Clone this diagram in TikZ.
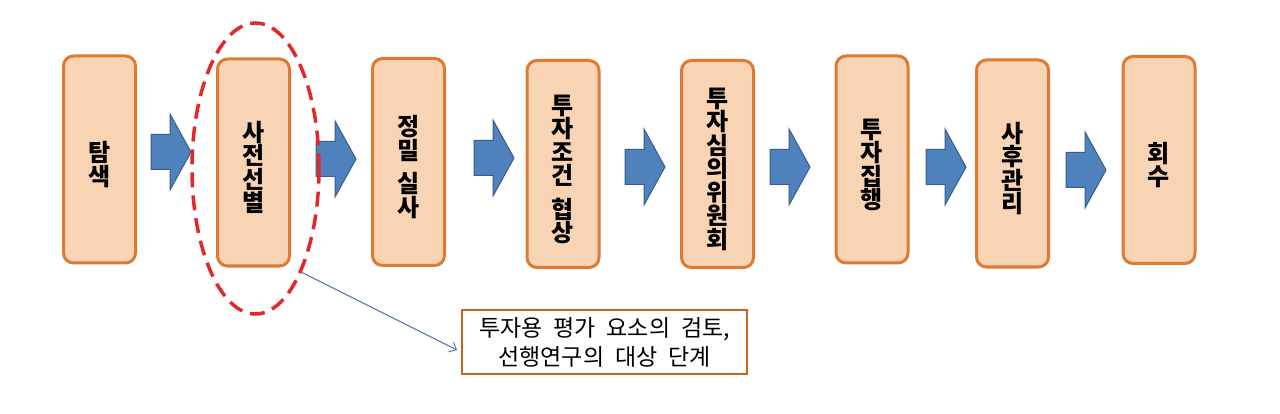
\documentclass[tikz,border=0pt]{standalone}
\usepackage{fontspec}
\setmainfont{Noto Sans CJK KR}
\newfontfamily\calfont[WordSpace=2.1]{Noto Sans CJK KR}
\usetikzlibrary{shapes.geometric,arrows.meta,calc}
\definecolor{boxfill}{HTML}{F8D4B4}
\definecolor{boxline}{HTML}{DE7A32}
\definecolor{arrfill}{HTML}{4F81BD}
\definecolor{arrline}{HTML}{385D8A}
\definecolor{ellred}{HTML}{E3282C}
\definecolor{calline}{HTML}{C8641E}
\definecolor{conn}{HTML}{4A72B2}
\newcommand\kstrut{\rule{0pt}{30pt}}
\begin{document}
\begin{tikzpicture}[x=1pt,y=-1pt,
  stagebox/.style={draw=boxline, fill=boxfill, line width=3pt, rounded corners=10pt,
    minimum width=72pt, minimum height=207pt, inner sep=0pt, align=center,
    font=\fontsize{24}{23.5}\selectfont\bfseries},
  blockarr/.pic={\draw[fill=arrfill, draw=arrline, line width=1pt]
    (0,-17.5) -- (19,-17.5) -- (19,-38) -- (40,0) -- (19,38) -- (19,17.5) -- (0,17.5) -- cycle;},
  selring/.style={ellipse, draw=ellred, line width=3.5pt, dash pattern=on 15pt off 8pt,
    minimum width=127pt, minimum height=291pt, inner sep=0pt},
  callout/.style={draw=calline, line width=2pt, fill=white, minimum width=285pt,
    minimum height=64pt, inner sep=0pt, align=center,
    font=\calfont\fontsize{23}{29}\selectfont},
  connline/.style={draw=conn, line width=0.9pt, -{Straight Barb[length=6pt,width=11pt]}}
]
\fill[white] (0,0) rectangle (1280,414);
\useasboundingbox (0,0) rectangle (1280,414);

\node[stagebox] (b1) at (99.5,159.5) {\kstrut 탐\\색};
\node[stagebox] (b2) at (253.5,162.5) {\kstrut 사\\전\\선\\별};
\node[stagebox] (b3) at (408.5,162) {\kstrut 정\\밀\\[10pt]실\\사};
\node[stagebox] (b4) at (563,164) {\kstrut 투\\자\\조\\건\\[10pt]협\\상};
\node[stagebox] (b5) at (717.5,164) {\kstrut 투\\자\\심\\의\\위\\원\\회};
\node[stagebox] (b6) at (872,159.5) {\kstrut 투\\자\\집\\행};
\node[stagebox] (b7) at (1012.5,163.5) {\kstrut 사\\후\\관\\리};
\node[stagebox] (b8) at (1159,160) {\kstrut 회\\수};

\pic at (151,152) {blockarr};
\pic at (316,159) {blockarr};
\pic at (474,158) {blockarr};
\pic at (625,167) {blockarr};
\pic at (770,167) {blockarr};
\pic at (926,167) {blockarr};
\pic at (1066,170) {blockarr};

\node[selring] (sel) at (255.5,168.5) {};

\node[callout] (note) at (604.5,342) {투자용 평가 요소의 검토,\\선행연구의 대상 단계};
\coordinate (notein) at ($(note.west)+(-4,8)$);
\draw[connline] (sel.-66) -- (notein);
\end{tikzpicture}
\end{document}
